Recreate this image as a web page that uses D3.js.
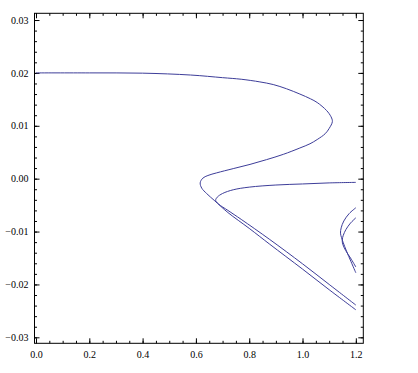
<!DOCTYPE html>
<html>
<head>
<meta charset="utf-8">
<script src="https://cdn.jsdelivr.net/npm/d3@7"></script>
<style>
  body { margin: 0; background: #fff; }
  .axis text { font-family: "Liberation Serif", "DejaVu Serif", serif; font-size: 10px; fill: #000; }
  .axis path { display: none; }
  .axis line { stroke: #000; stroke-width: 1; }
  .frame { fill: none; stroke: #000; stroke-width: 1; }
  .curve { fill: none; stroke: #3d3d99; stroke-width: 1; }
</style>
</head>
<body>
<svg id="chart"></svg>
<script>
// x and y values of each curve
var curveAx = [0, 0.2, 0.4, 0.58, 0.7, 0.77, 0.84, 0.89, 0.94, 0.99, 1.03, 1.055, 1.09, 1.107, 1.112, 1.1, 1.085, 1.055, 1.028, 0.99, 0.928, 0.865, 0.803, 0.74, 0.678, 0.645, 0.626, 0.616, 0.622, 0.64, 0.671, 0.72, 0.8, 0.877, 1.0, 1.1, 1.2];
var curveAy = [0.02, 0.02, 0.01995, 0.0196, 0.0191, 0.0188, 0.0183, 0.0178, 0.017, 0.016, 0.0151, 0.0144, 0.0129, 0.0117, 0.0108, 0.0095, 0.0085, 0.0074, 0.0066, 0.0058, 0.0046, 0.0036, 0.0027, 0.0019, 0.0011, 0.0006, 0.0001, -0.0008, -0.0018, -0.0028, -0.0042, -0.0064, -0.0094, -0.0124, -0.0171, -0.021, -0.0248];

var curveBx = [1.2, 1.1, 1.0, 0.9, 0.8, 0.74, 0.7, 0.68, 0.674, 0.685, 0.72, 0.77, 0.877, 1.0, 1.1, 1.2];
var curveBy = [-0.0007, -0.0008, -0.001, -0.0012, -0.0016, -0.0021, -0.0028, -0.0035, -0.0041, -0.0048, -0.006, -0.0077, -0.0115, -0.0161, -0.02, -0.0239];

var curveCx = [1.2, 1.175, 1.155, 1.145, 1.1425, 1.146, 1.152, 1.165, 1.182, 1.2];
var curveCy = [-0.0055, -0.0066, -0.008, -0.0093, -0.0103, -0.0111, -0.012, -0.0137, -0.0157, -0.0178];

var curveDx = [1.2, 1.18, 1.163, 1.153, 1.149, 1.151, 1.162, 1.18, 1.2];
var curveDy = [-0.0074, -0.0084, -0.0096, -0.0107, -0.0116, -0.0124, -0.0136, -0.015, -0.0167];

var xTicks = [0, 0.2, 0.4, 0.6, 0.8, 1.0, 1.2];
var yTicks = [-0.03, -0.02, -0.01, 0, 0.01, 0.02, 0.03];

(function () {
    var width = 418;
    var height = 373;
    var marginLeft = 34.5, marginRight = 363.3, marginTop = 13.3, marginBottom = 343.3;

    var x = d3.scaleLinear().domain([-0.0056, 1.228]).range([marginLeft, marginRight]);
    var y = d3.scaleLinear().domain([-0.03113, 0.03127]).range([marginBottom, marginTop]);

    var svg = d3.select('#chart')
        .attr('width', width)
        .attr('height', height);

    var xMinor = d3.range(0, 1.2001, 0.05);
    var yMinor = d3.range(-0.03, 0.03001, 0.002);

    // bottom and left axes with labels
    svg.append('g').attr('class', 'axis').attr('transform', 'translate(0,' + marginBottom + ')')
        .call(d3.axisBottom(x).tickValues(xMinor).tickSize(-2.5).tickSizeOuter(0).tickFormat(''));
    svg.append('g').attr('class', 'axis').attr('transform', 'translate(0,' + marginBottom + ')')
        .call(d3.axisBottom(x).tickValues(xTicks).tickSize(-5).tickSizeOuter(0).tickPadding(8).tickFormat(d3.format('.1f')));

    svg.append('g').attr('class', 'axis').attr('transform', 'translate(' + marginLeft + ',0)')
        .call(d3.axisLeft(y).tickValues(yMinor).tickSize(-2.5).tickSizeOuter(0).tickFormat(''));
    svg.append('g').attr('class', 'axis').attr('transform', 'translate(' + marginLeft + ',0)')
        .call(d3.axisLeft(y).tickValues(yTicks).tickSize(-5).tickSizeOuter(0).tickPadding(6).tickFormat(d3.format('.2f')));

    // mirrored ticks on top and right, no labels
    svg.append('g').attr('class', 'axis').attr('transform', 'translate(0,' + marginTop + ')')
        .call(d3.axisTop(x).tickValues(xMinor).tickSize(-2.5).tickSizeOuter(0).tickFormat(''));
    svg.append('g').attr('class', 'axis').attr('transform', 'translate(0,' + marginTop + ')')
        .call(d3.axisTop(x).tickValues(xTicks).tickSize(-5).tickSizeOuter(0).tickFormat(''));
    svg.append('g').attr('class', 'axis').attr('transform', 'translate(' + marginRight + ',0)')
        .call(d3.axisRight(y).tickValues(yMinor).tickSize(-2.5).tickSizeOuter(0).tickFormat(''));
    svg.append('g').attr('class', 'axis').attr('transform', 'translate(' + marginRight + ',0)')
        .call(d3.axisRight(y).tickValues(yTicks).tickSize(-5).tickSizeOuter(0).tickFormat(''));

    svg.append('rect')
        .attr('class', 'frame')
        .attr('x', marginLeft)
        .attr('y', marginTop)
        .attr('width', marginRight - marginLeft)
        .attr('height', marginBottom - marginTop);

    var line = d3.line()
        .x(function (d) { return x(d[0]); })
        .y(function (d) { return y(d[1]); })
        .curve(d3.curveCatmullRom.alpha(0.5));

    var curves = [
        [curveAx, curveAy],
        [curveBx, curveBy],
        [curveCx, curveCy],
        [curveDx, curveDy]
    ];

    svg.selectAll('path.curve')
        .data(curves)
        .enter()
        .append('path')
        .attr('class', 'curve')
        .attr('d', function (c) {
            return line(d3.zip(c[0], c[1]));
        });
})();
</script>
</body>
</html>
